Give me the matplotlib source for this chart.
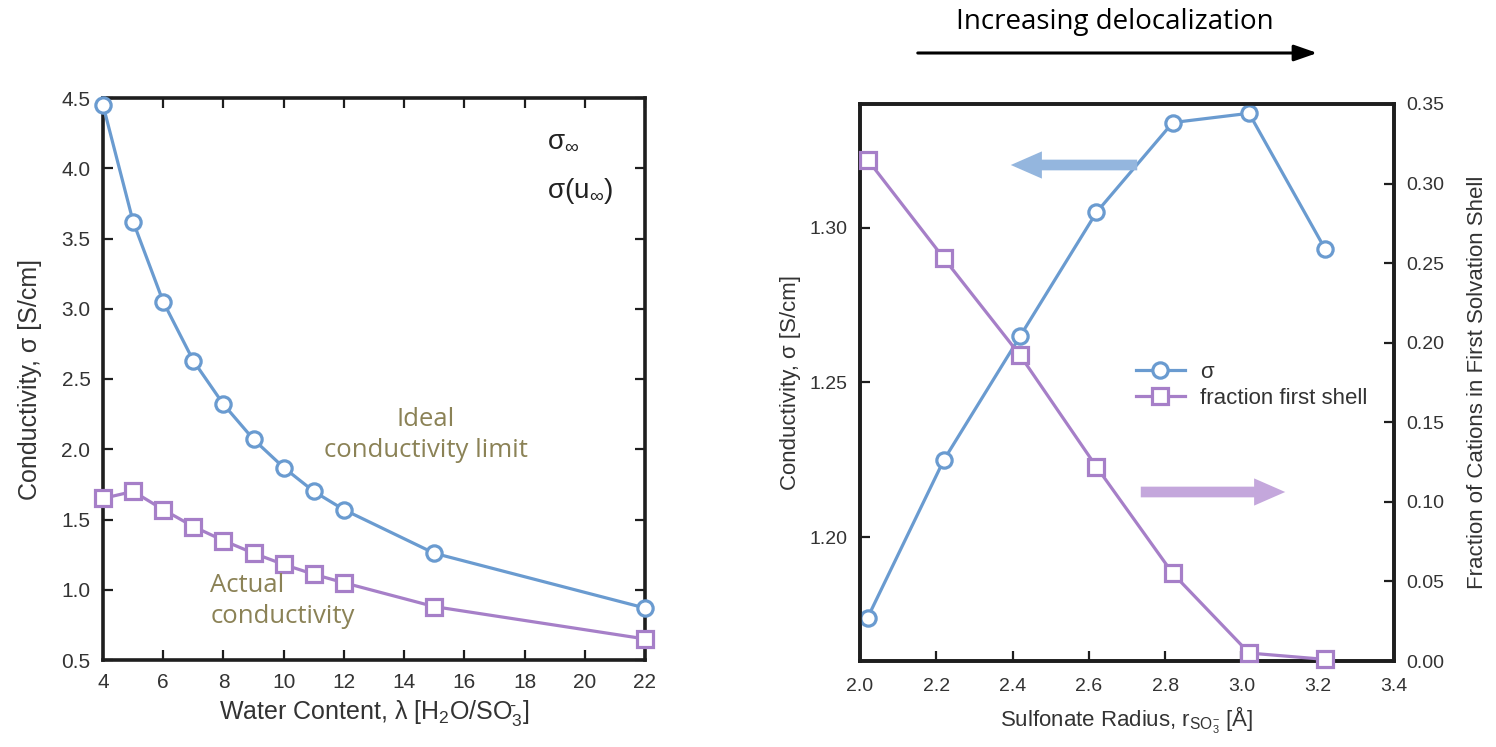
import matplotlib
matplotlib.use("Agg")
import matplotlib.pyplot as plt
from matplotlib.patches import FancyArrowPatch

# ---------------- data ----------------
water_content = [4, 5, 6, 7, 8, 9, 10, 11, 12, 15, 22]
sigma_ideal = [4.45, 3.62, 3.05, 2.63, 2.32, 2.07, 1.87, 1.70, 1.57, 1.26, 0.87]
sigma_actual = [1.65, 1.70, 1.57, 1.45, 1.35, 1.26, 1.18, 1.11, 1.05, 0.88, 0.65]

sulfonate_radius = [2.02, 2.22, 2.42, 2.62, 2.82, 3.02, 3.22]
sigma_radius = [1.174, 1.225, 1.265, 1.305, 1.334, 1.337, 1.293]
fraction_first_shell = [0.315, 0.253, 0.192, 0.122, 0.055, 0.005, 0.001]

left_xticks = [4, 6, 8, 10, 12, 14, 16, 18, 20, 22]
left_yticks = [0.5, 1.0, 1.5, 2.0, 2.5, 3.0, 3.5, 4.0, 4.5]
right_xticks = [2.0, 2.2, 2.4, 2.6, 2.8, 3.0, 3.2, 3.4]
right_yticks = [1.20, 1.25, 1.30]
frac_yticks = [0.00, 0.05, 0.10, 0.15, 0.20, 0.25, 0.30, 0.35]

# ---------------- style ----------------
plt.rcParams['font.family'] = ['Liberation Sans', 'DejaVu Sans']
plt.rcParams['mathtext.fontset'] = 'custom'
plt.rcParams['mathtext.rm'] = 'Liberation Sans'
plt.rcParams['mathtext.it'] = 'Liberation Sans'
plt.rcParams['mathtext.bf'] = 'Liberation Sans:bold'

BLUE = '#6a9bd0'
PURPLE = '#a67fc8'
OLIVE = '#8b8256'
SPINE = '#1e1e1e'
TXT = '#333333'

W, H = 1496, 747
fig = plt.figure(figsize=(W / 100, H / 100), dpi=100)


def style_axes(ax, size):
    for s in ax.spines.values():
        s.set_linewidth(2.6)
        s.set_color(SPINE)
    ax.tick_params(direction='in', length=7, width=1.6, color=SPINE,
                   labelsize=size, labelcolor=TXT, pad=9)


# ---------------- left panel ----------------
ax1 = fig.add_axes([103 / W, 1 - 660 / H, (645 - 103) / W, (660 - 98) / H])
style_axes(ax1, 15)
ax1.tick_params(top=True, right=True)
ax1.plot(water_content, sigma_ideal, '-o', color=BLUE, lw=2.3, ms=11,
         mfc='white', mec=BLUE, mew=2.3, clip_on=False, zorder=3)
ax1.plot(water_content, sigma_actual, '-s', color=PURPLE, lw=2.3, ms=11,
         mfc='white', mec=PURPLE, mew=2.3, clip_on=False, zorder=3)
ax1.set_xlim(4, 22)
ax1.set_ylim(0.5, 4.5)
ax1.set_xticks(left_xticks)
ax1.set_yticks(left_yticks)
ax1.set_yticklabels([f'{v:.1f}' for v in left_yticks])
ax1.set_xlabel(r'Water Content, λ [H$_2$O/SO$_3^{\bar{}}$]', fontsize=18,
               color=TXT, labelpad=5)
ax1.set_ylabel('Conductivity, σ [S/cm]', fontsize=18, color=TXT, labelpad=14)

ax1.text(0.82, 0.925, r'σ$_{\infty}$', transform=ax1.transAxes, fontsize=20,
         color='#222222', ha='left', va='center')
ax1.text(0.82, 0.835, r'σ(u$_{\infty}$)', transform=ax1.transAxes, fontsize=20,
         color='#222222', ha='left', va='center')
ax1.text(0.595, 0.40, 'Ideal\nconductivity limit', transform=ax1.transAxes,
         fontsize=18.5, color=OLIVE, ha='center', va='center',
         family=['Open Sans', 'DejaVu Sans'], linespacing=1.3)
ax1.text(0.198, 0.105, 'Actual\nconductivity', transform=ax1.transAxes,
         fontsize=18.5, color=OLIVE, ha='left', va='center',
         family=['Open Sans', 'DejaVu Sans'], linespacing=1.3,
         multialignment='left')

# ---------------- right panel ----------------
ax2 = fig.add_axes([860 / W, 1 - 661 / H, (1394 - 860) / W, (661 - 104) / H])
ax3 = ax2.twinx()
style_axes(ax2, 14)
style_axes(ax3, 14)
ax2.tick_params(right=False, top=False)
ax2.tick_params(axis='x', pad=12)
ax3.tick_params(left=False, top=False, bottom=False)

l1, = ax2.plot(sulfonate_radius, sigma_radius, '-o', color=BLUE, lw=2.3, ms=11,
               mfc='white', mec=BLUE, mew=2.3, clip_on=False, zorder=3,
               label='σ')
l2, = ax3.plot(sulfonate_radius, fraction_first_shell, '-s', color=PURPLE,
               lw=2.3, ms=11, mfc='white', mec=PURPLE, mew=2.3, clip_on=False,
               zorder=3, label='fraction first shell')
ax2.set_xlim(2.0, 3.4)
ax2.set_ylim(1.16, 1.34)
ax3.set_ylim(0.0, 0.35)
ax2.set_xticks(right_xticks)
ax2.set_xticklabels([f'{v:.1f}' for v in right_xticks])
ax2.set_yticks(right_yticks)
ax2.set_yticklabels([f'{v:.2f}' for v in right_yticks])
ax3.set_yticks(frac_yticks)
ax3.set_yticklabels([f'{v:.2f}' for v in frac_yticks])
ax2.set_xlabel(r'Sulfonate Radius, r$_{\mathrm{SO_3^{-}}}$ [Å]', fontsize=16,
               color=TXT, labelpad=7)
ax2.set_ylabel('Conductivity, σ [S/cm]', fontsize=16, color=TXT, labelpad=6)
ax3.set_ylabel('Fraction of Cations in First Solvation Shell', fontsize=16,
               color=TXT, labelpad=16)

ax3.legend(handles=[l1, l2], loc='center left', bbox_to_anchor=(0.50, 0.495),
           frameon=False, fontsize=16, handlelength=2.2, labelcolor=TXT,
           borderaxespad=0, handletextpad=0.7, labelspacing=0.25)

# arrows inside right panel (figure pixels)
fig.add_artist(FancyArrowPatch((1140 / W, 1 - 165 / H), (1008 / W, 1 - 165 / H),
                               transform=fig.transFigure,
                               arrowstyle='simple,head_width=1.4,head_length=1.6,tail_width=0.55',
                               mutation_scale=14, color='#94b6de', lw=0))
fig.add_artist(FancyArrowPatch((1138 / W, 1 - 492 / H), (1288 / W, 1 - 492 / H),
                               transform=fig.transFigure,
                               arrowstyle='simple,head_width=1.4,head_length=1.6,tail_width=0.55',
                               mutation_scale=14, color='#c4a7dc', lw=0))

# top annotation
fig.add_artist(FancyArrowPatch((915 / W, 1 - 53 / H), (1320 / W, 1 - 53 / H),
                               transform=fig.transFigure,
                               arrowstyle='-|>,head_width=0.35,head_length=1.0',
                               mutation_scale=14, color='black', lw=2.2))
fig.text(1115 / W, 1 - 22 / H, 'Increasing delocalization', fontsize=20,
         ha='center', va='center', color='black',
         family=['Open Sans', 'DejaVu Sans'])

fig.savefig('out.png', dpi=100, facecolor='white')
